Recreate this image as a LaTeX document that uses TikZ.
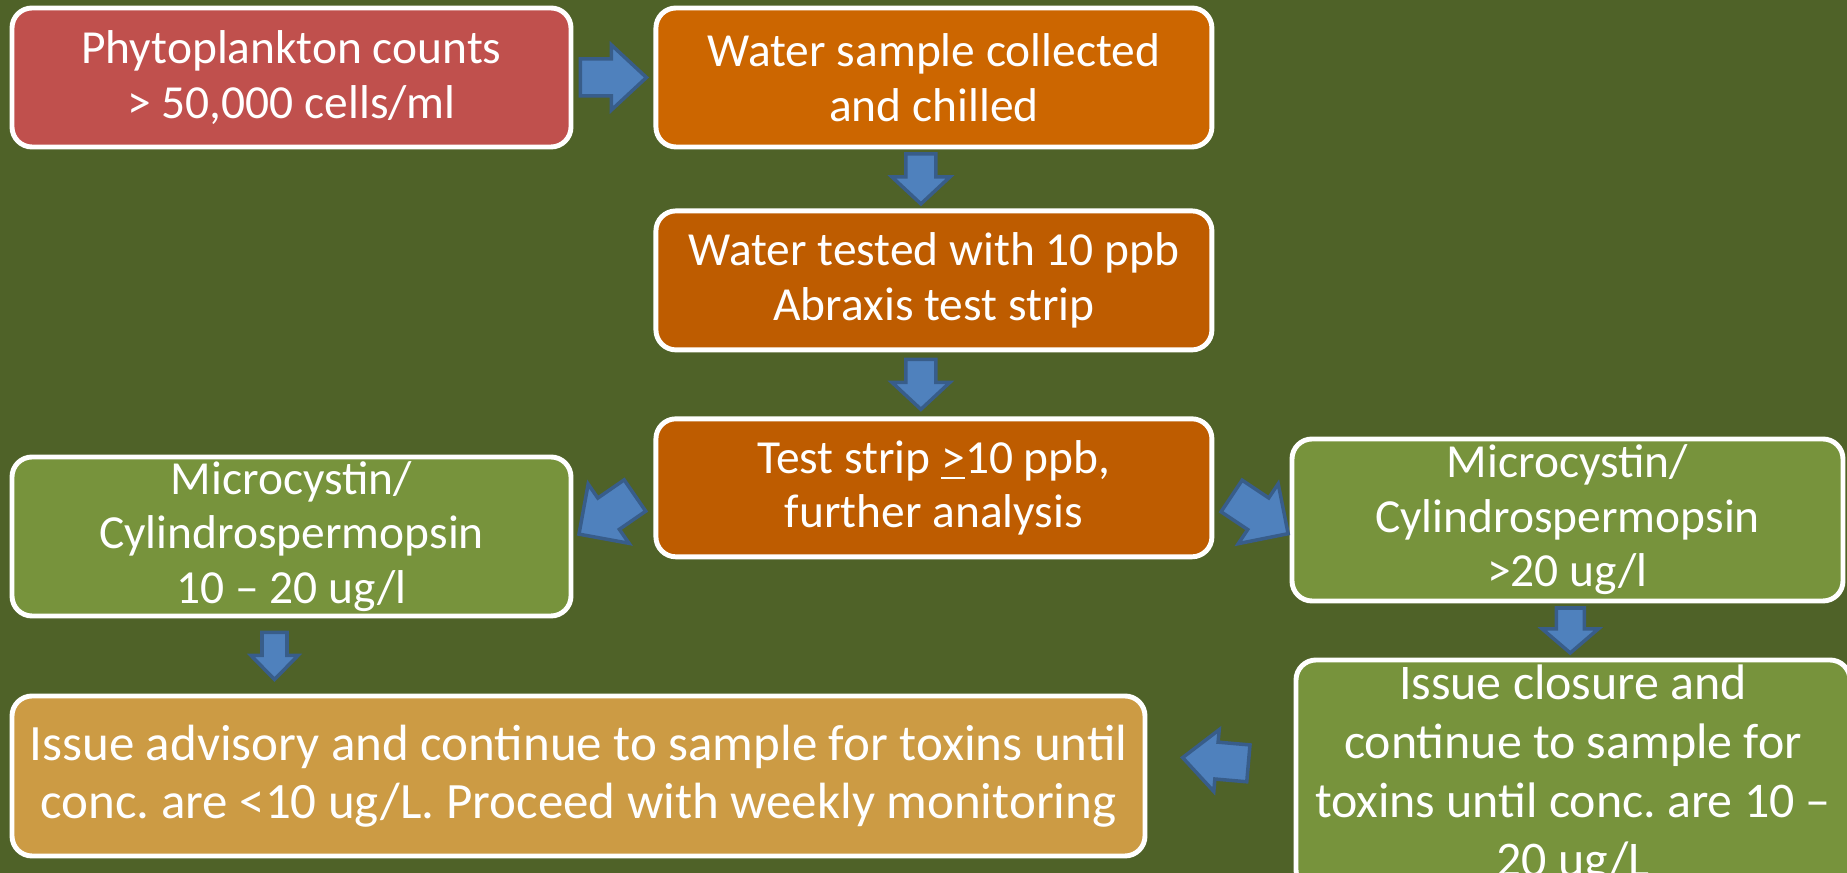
\documentclass[tikz,border=0pt]{standalone}
\usepackage{fontspec}
\setmainfont{Carlito}
\usepackage{tikz}
\usetikzlibrary{positioning}
\usetikzlibrary{calc}
\frenchspacing

\definecolor{bgolive}{RGB}{79,98,40}
\definecolor{boxred}{RGB}{192,80,77}
\definecolor{boxorange}{RGB}{204,102,0}
\definecolor{boxrust}{RGB}{190,92,0}
\definecolor{boxgreen}{RGB}{119,147,60}
\definecolor{boxtan}{RGB}{204,155,68}
\definecolor{arrowfill}{RGB}{79,129,189}
\definecolor{arrowedge}{RGB}{56,93,138}

\begin{document}
\begin{tikzpicture}[semithick,
    pics/barrow/.style n args={4}{code={
      \draw[arrowline] (-#1/2,-#3/2) -- (#1/2-#4,-#3/2) -- (#1/2-#4,-#2/2) -- (#1/2,0)
        -- (#1/2-#4,#2/2) -- (#1/2-#4,#3/2) -- (-#1/2,#3/2) -- cycle;
    }}]
  \tikzstyle{box}=[draw=white, line width=1.4pt, rounded corners=0.2cm, text=white, align=center, inner sep=0pt, font=\fontsize{13.5}{15.5}\selectfont]
  \tikzstyle{arrowline}=[draw=arrowedge, fill=arrowfill, line width=1pt, line join=miter]

  \useasboundingbox (0,0) rectangle (18.47,-8.73);
  \fill[bgolive] (0,0) rectangle (18.47,-8.73);

  % top row and middle column
  \node[box, fill=boxred, minimum width=5.59cm, minimum height=1.39cm] (counts) at (2.915,-0.775) {Phytoplankton counts\\> 50,000 cells/ml};
  \node[box, fill=boxorange, minimum width=5.56cm, minimum height=1.39cm] (sample) [right=0.8cm of counts] {Water sample collected\\and chilled};
  \node[box, fill=boxrust, minimum width=5.56cm, minimum height=1.39cm] (tested) [below=0.59cm of sample] {Water tested with 10 ppb\\Abraxis test strip};
  \node[box, fill=boxrust, minimum width=5.56cm, minimum height=1.38cm] (strip) [below=0.64cm of tested] {Test strip \underline{>}10 ppb,\\further analysis};

  % results
  \node[box, fill=boxgreen, minimum width=5.59cm, minimum height=1.59cm] (mcleft) at (2.915,-5.365) {Microcystin/\\Cylindrospermopsin\\10 -- 20 ug/l};
  \node[box, fill=boxgreen, minimum width=5.51cm, minimum height=1.62cm] (mcright) at (15.675,-5.20) {Microcystin/\\Cylindrospermopsin\\>20 ug/l};
  \node[box, fill=boxgreen, minimum width=5.54cm, minimum height=2.30cm, font=\fontsize{14.2}{16.8}\selectfont] (closure) at (15.73,-7.75) {Issue closure and\\continue to sample for\\toxins until conc. are 10 --\\20 ug/L};
  \node[box, fill=boxtan, minimum width=11.33cm, minimum height=1.60cm, font=\fontsize{14.5}{16.6}\selectfont] (advisory) at (5.785,-7.76) {Issue advisory and continue to sample for toxins until\\conc. are <10 ug/L. Proceed with weekly monitoring};

  % block arrows
  \pic at ($(counts.east)!0.5!(sample.west)$) {barrow={0.66}{0.65}{0.37}{0.35}};
  \pic[rotate=-90] at ($(sample.south)!0.5!(tested.north)+(-0.13,0)$) {barrow={0.50}{0.58}{0.30}{0.27}};
  \pic[rotate=-90] at ($(tested.south)!0.5!(strip.north)+(-0.13,0)$) {barrow={0.50}{0.58}{0.30}{0.27}};
  \pic[rotate=214.6] at ($(strip.west)+(-0.465,-0.27)$) {barrow={0.68}{0.72}{0.38}{0.36}};
  \pic[rotate=-33.7] at ($(strip.east)+(0.455,-0.27)$) {barrow={0.68}{0.72}{0.38}{0.36}};
  \pic[rotate=-90] at ($(mcleft.south)!0.5!(mcleft.south |- advisory.north)+(-0.17,0)$) {barrow={0.47}{0.47}{0.25}{0.24}};
  \pic[rotate=-90] at ($(mcright.south)!0.5!(closure.north)$) {barrow={0.45}{0.56}{0.28}{0.24}};
  \pic[rotate=175] at ($(closure.west)!0.5!(advisory.east)+(-0.05,0.15)$) {barrow={0.66}{0.62}{0.37}{0.34}};
\end{tikzpicture}
\end{document}
